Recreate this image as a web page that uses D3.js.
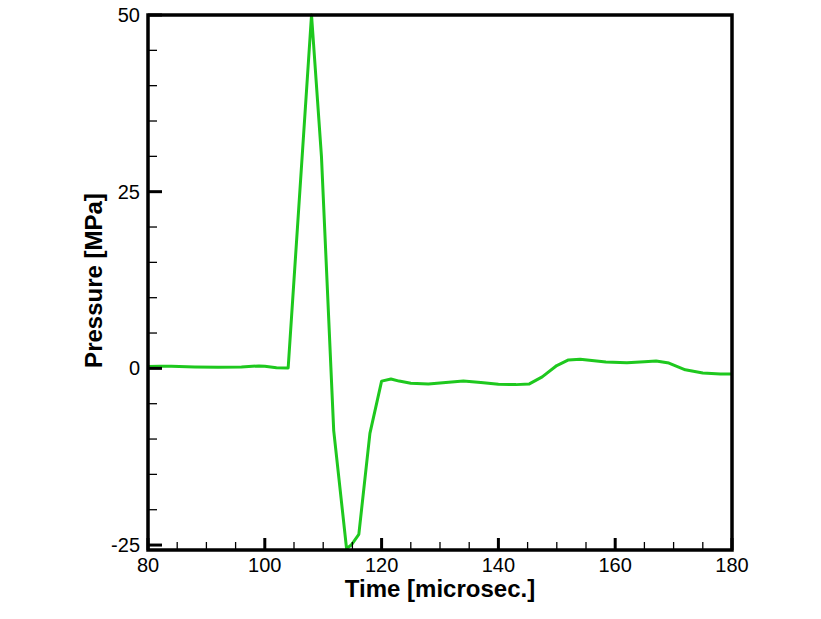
<!DOCTYPE html>
<html><head><meta charset="utf-8">
<script src="https://cdn.jsdelivr.net/npm/d3@7"></script>
<style>body{margin:0;background:#fff}svg{display:block}</style>
</head><body>
<script>
const timeValues = [80, 82, 84, 88, 92, 96, 99, 100, 102, 104, 108, 109.7, 111.8, 114, 114.8, 116.1, 118, 120, 121.6, 123, 125, 128, 131, 134, 137, 140, 143, 145.3, 147.5, 150, 152, 154, 156, 158.4, 162, 165, 167, 169.2, 172, 175, 178, 180];
const pressureValues = [0.25, 0.3, 0.3, 0.2, 0.15, 0.2, 0.35, 0.3, 0.1, 0.05, 50, 30, -8.8, -25.5, -25, -23.5, -9.2, -1.8, -1.5, -1.8, -2.1, -2.2, -2.0, -1.8, -2.0, -2.25, -2.3, -2.2, -1.2, 0.4, 1.2, 1.3, 1.1, 0.9, 0.8, 0.95, 1.05, 0.75, -0.2, -0.65, -0.8, -0.8];
const xMajorTicks = [80, 100, 120, 140, 160, 180];
const yMajorTicks = [-25, 0, 25, 50];
const xLabel = "Time [microsec.]";
const yLabel = "Pressure [MPa]";

const W = 821, H = 619;
const L = 148, R = 732, T = 15, B = 550;
const svg = d3.select("body").append("svg").attr("width", W).attr("height", H);
const x = d3.scaleLinear().domain([80, 180]).range([L, R]);
const y = d3.scaleLinear().domain([-25.7, 50]).range([B, T]);

const xMinor = d3.range(80, 181, 5).filter(v => !xMajorTicks.includes(v));
const yMinor = d3.range(-25, 51, 5).filter(v => !yMajorTicks.includes(v));

// line
const data = timeValues.map((t, i) => ({t, p: pressureValues[i]}));
svg.append("path").datum(data)
  .attr("fill", "none").attr("stroke", "#1ec81e").attr("stroke-width", 3)
  .attr("stroke-linejoin", "round")
  .attr("d", d3.line().x(d => x(d.t)).y(d => y(d.p)));

// ticks
const g = svg.append("g").attr("stroke", "#000");
g.selectAll(".xmaj").data(xMajorTicks).enter().append("line")
  .attr("x1", d => x(d)).attr("x2", d => x(d)).attr("y1", B).attr("y2", B - 12).attr("stroke-width", 3);
g.selectAll(".xmin").data(xMinor).enter().append("line")
  .attr("x1", d => x(d)).attr("x2", d => x(d)).attr("y1", B).attr("y2", B - 8).attr("stroke-width", 1.3);
g.selectAll(".ymaj").data(yMajorTicks).enter().append("line")
  .attr("x1", L).attr("x2", L + 14).attr("y1", d => y(d)).attr("y2", d => y(d)).attr("stroke-width", 3);
g.selectAll(".ymin").data(yMinor).enter().append("line")
  .attr("x1", L).attr("x2", L + 9).attr("y1", d => y(d)).attr("y2", d => y(d)).attr("stroke-width", 1.3);

// frame
svg.append("rect").attr("x", L).attr("y", T).attr("width", R - L).attr("height", B - T)
  .attr("fill", "none").attr("stroke", "#000").attr("stroke-width", 3.5);

// tick labels
svg.selectAll(".xl").data(xMajorTicks).enter().append("text")
  .attr("x", d => x(d)).attr("y", B + 21.5).attr("text-anchor", "middle")
  .attr("font-family", "Arial, 'Liberation Sans', sans-serif").attr("font-size", 20)
  .text(d => d);
svg.selectAll(".yl").data(yMajorTicks).enter().append("text")
  .attr("x", L - 8).attr("y", d => y(d) + 7).attr("text-anchor", "end")
  .attr("font-family", "Arial, 'Liberation Sans', sans-serif").attr("font-size", 20)
  .text(d => d);

// axis titles
svg.append("text").attr("x", (L + R) / 2).attr("y", 597).attr("text-anchor", "middle")
  .attr("font-family", "Arial, 'Liberation Sans', sans-serif").attr("font-size", 24).attr("font-weight", "bold")
  .text(xLabel);
svg.append("text").attr("transform", `translate(102,${(T + B) / 2 - 2}) rotate(-90)`).attr("text-anchor", "middle")
  .attr("font-family", "Arial, 'Liberation Sans', sans-serif").attr("font-size", 24).attr("font-weight", "bold")
  .text(yLabel);
</script>
</body></html>
